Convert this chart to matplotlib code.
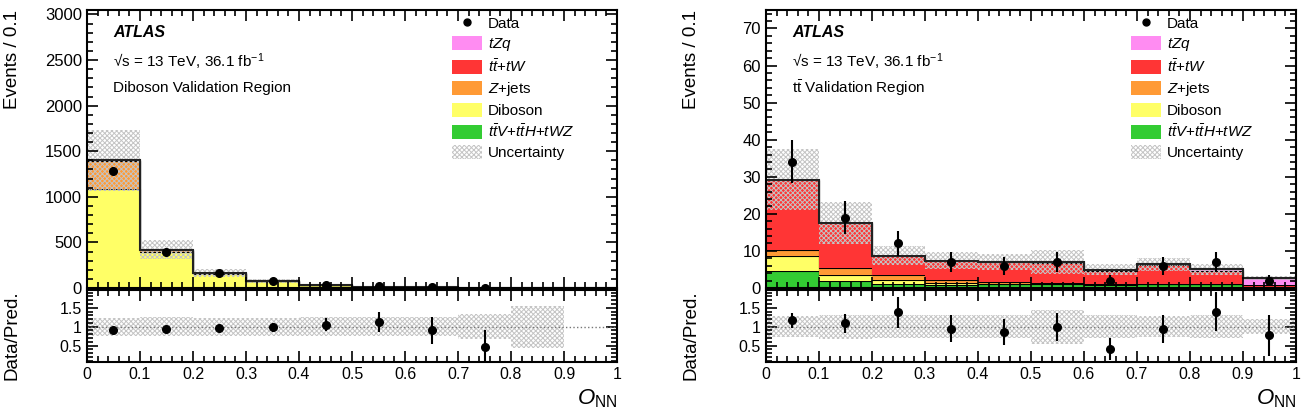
import numpy as np
import matplotlib
matplotlib.use('Agg')
import matplotlib.pyplot as plt
from matplotlib.patches import Patch
from matplotlib.lines import Line2D
from matplotlib.ticker import MultipleLocator, FuncFormatter

plt.rcParams['font.family'] = ['Liberation Sans', 'DejaVu Sans']
plt.rcParams['mathtext.fontset'] = 'custom'
plt.rcParams['mathtext.rm'] = 'Liberation Sans'
plt.rcParams['mathtext.it'] = 'Liberation Sans:italic'
plt.rcParams['mathtext.bf'] = 'Liberation Sans:bold'
plt.rcParams['hatch.linewidth'] = 0.7
plt.rcParams['hatch.color'] = '#c4c4c4'

# bin edges of O_NN
edges = [0.0, 0.1, 0.2, 0.3, 0.4, 0.5, 0.6, 0.7, 0.8, 0.9, 1.0]

# diboson validation region (left)
ttv_L = [3, 2, 1, 1, 0.5, 0.2, 0.1, 0.05, 0.02, 0]
dib_L = [1080, 390, 155, 72, 33, 13.5, 5.8, 1.8, 0.7, 0]
zj_L = [310, 25, 7, 3, 1.5, 0.8, 0.4, 0.2, 0.05, 0]
tt_L = [6, 3, 2, 1.5, 1, 0.5, 0.3, 0.1, 0.05, 0]
tzq_L = [1, 0.5, 0.3, 0.2, 0.1, 0.1, 0.05, 0.02, 0.01, 0]
data_L = [1288, 400, 160, 76, 38, 17, 6, 1, 0, 0]
err_L = [36, 20, 12.6, 8.7, 6.2, 4.1, 2.4, 1.0, 0, 0]
unc_L = [0.24, 0.25, 0.24, 0.24, 0.25, 0.25, 0.26, 0.34, 0.56, 0]

# ttbar validation region (right)
ttv_R = [4.5, 2.0, 1.2, 0.9, 1.0, 1.0, 0.9, 1.0, 1.0, 0.3]
dib_R = [4.0, 1.6, 1.0, 0.4, 0.2, 0.2, 0.1, 0.1, 0.1, 0.05]
zj_R = [1.8, 1.8, 1.4, 0.9, 0.3, 0.2, 0.1, 0.1, 0.1, 0.05]
tt_R = [18.8, 12.0, 5.0, 5.1, 5.4, 5.4, 3.6, 4.9, 3.4, 0.5]
tzq_R = [0.1, 0.1, 0.1, 0.1, 0.1, 0.2, 0.2, 0.3, 0.4, 1.7]
data_R = [34, 19, 12, 7, 6, 7, 2, 6, 7, 2]
err_R = [5.8, 4.4, 3.5, 2.6, 2.4, 2.6, 1.4, 2.4, 2.6, 1.4]
unc_R = [0.28, 0.32, 0.30, 0.31, 0.30, 0.45, 0.30, 0.28, 0.30, 0.20]

names = ['Data', '$tZq$', r'$t\bar{t}$+$tW$', '$Z$+jets', 'Diboson',
         r'$t\bar{t}V$+$t\bar{t}H$+$tWZ$', 'Uncertainty']
colors = {'tzq': '#ff8cf2', 'tt': '#ff3535', 'zj': '#ff9a35',
          'dib': '#ffff66', 'ttv': '#33cc33'}
HATCH = 'xxxxxxx'
HCOL = '#c4c4c4'


def style_axes(ax, ymajor, yminor):
    ax.xaxis.set_major_locator(MultipleLocator(0.1))
    ax.xaxis.set_minor_locator(MultipleLocator(0.02))
    ax.yaxis.set_major_locator(MultipleLocator(ymajor))
    ax.yaxis.set_minor_locator(MultipleLocator(yminor))
    ax.tick_params(which='both', direction='in', top=True, right=True, width=1.2)
    ax.tick_params(which='major', length=8)
    ax.tick_params(which='minor', length=4)
    for s in ax.spines.values():
        s.set_linewidth(1.5)
    ax.xaxis.set_major_formatter(FuncFormatter(lambda v, p: '%g' % v))
    ax.yaxis.set_major_formatter(FuncFormatter(lambda v, p: '%g' % v))


def draw(ax, axr, stack, data, err, unc_rel, ymax, ymajor, yminor, region):
    x = np.array(edges)
    centers = 0.5 * (x[1:] + x[:-1])
    base = np.zeros(10)
    for vals, key in stack:
        vals = np.array(vals, dtype=float)
        ax.stairs(base + vals, x, baseline=base, fill=True,
                  facecolor=colors[key], edgecolor='none')
        ax.stairs(base + vals, x, baseline=None, color='k', lw=0.8)
        base = base + vals
    total = base
    unc = total * np.array(unc_rel)
    ax.stairs(total + unc, x, baseline=total - unc, fill=True,
              facecolor='none', edgecolor=HCOL, hatch=HATCH, lw=0)
    ax.stairs(total, x, baseline=None, color='#222222', lw=1.5)
    data = np.array(data, dtype=float)
    err = np.array(err, dtype=float)
    m = data > 0
    ax.errorbar(centers[m], data[m], yerr=err[m], fmt='o', color='k',
                ms=5.5, elinewidth=1.5, capsize=0)
    ax.set_xlim(0, 1)
    ax.set_ylim(0, ymax)
    style_axes(ax, ymajor, yminor)
    ax.tick_params(labelbottom=False, labelsize=12)
    ax.set_ylabel('Events / 0.1', fontsize=13.5, loc='top')
    ax.yaxis.set_label_coords(-0.125, 1.0)

    ax.text(0.049, 0.917, 'ATLAS', transform=ax.transAxes, fontsize=11.5,
            fontweight='bold', style='italic', va='center')
    ax.text(0.049, 0.813, '√s = 13 TeV, 36.1 fb$^{-1}$', transform=ax.transAxes,
            fontsize=11, va='center')
    ax.text(0.049, 0.719, region, transform=ax.transAxes, fontsize=11, va='center')

    handles = [Line2D([], [], marker='o', ls='none', color='k', ms=5),
               Patch(facecolor=colors['tzq']), Patch(facecolor=colors['tt']),
               Patch(facecolor=colors['zj']), Patch(facecolor=colors['dib']),
               Patch(facecolor=colors['ttv']),
               Patch(facecolor='white', edgecolor=HCOL, hatch=HATCH, lw=0)]
    ax.legend(handles, names, loc='upper left', bbox_to_anchor=(0.688, 0.978),
              frameon=False, fontsize=11, handlelength=2.0, handleheight=1.0,
              handletextpad=0.35, labelspacing=0.33, borderpad=0, borderaxespad=0)

    # ratio panel
    ok = total > 0
    rel = np.where(ok, np.array(unc_rel), 0.0)
    axr.stairs(1 + rel, x, baseline=1 - rel, fill=True, facecolor='none',
               edgecolor=HCOL, hatch=HATCH, lw=0)
    axr.axhline(1, color='#777777', ls=':', lw=1)
    mr = m & ok
    ratio = data[mr] / total[mr]
    rerr = err[mr] / total[mr]
    axr.errorbar(centers[mr], ratio, yerr=rerr, fmt='o', color='k',
                 ms=5.5, elinewidth=1.5, capsize=0)
    axr.set_xlim(0, 1)
    axr.set_ylim(0.06, 1.97)
    style_axes(axr, 0.5, 0.1)
    axr.tick_params(labelsize=11.5)
    axr.set_ylabel('Data/Pred.', fontsize=13.5, loc='top')
    axr.yaxis.set_label_coords(-0.125, 1.0)
    axr.set_xlabel(r'$O_{\mathrm{NN}}$', fontsize=16, loc='right')


fig = plt.figure(figsize=(13.12, 4.12), dpi=100)
axL = fig.add_axes([0.0663, 0.301, 0.404, 0.675])
axLr = fig.add_axes([0.0663, 0.121, 0.404, 0.175])
axR = fig.add_axes([0.5838, 0.301, 0.404, 0.675])
axRr = fig.add_axes([0.5838, 0.121, 0.404, 0.175])

stackL = [(ttv_L, 'ttv'), (dib_L, 'dib'), (zj_L, 'zj'), (tt_L, 'tt'), (tzq_L, 'tzq')]
stackR = [(ttv_R, 'ttv'), (dib_R, 'dib'), (zj_R, 'zj'), (tt_R, 'tt'), (tzq_R, 'tzq')]

draw(axL, axLr, stackL, data_L, err_L, unc_L, 3050, 500, 100,
     'Diboson Validation Region')
draw(axR, axRr, stackR, data_R, err_R, unc_R, 75, 10, 2,
     r'$\mathrm{t\bar{t}}$ Validation Region')

fig.savefig('out.png', dpi=100)
